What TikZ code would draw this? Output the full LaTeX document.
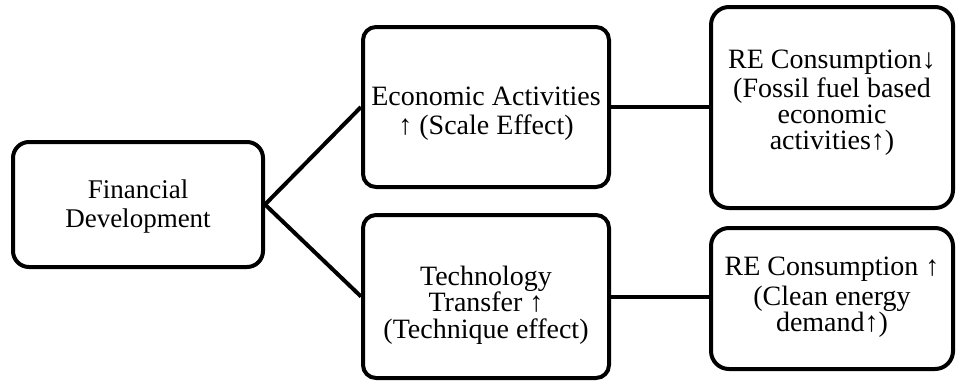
\documentclass[tikz,border=0pt]{standalone}
\usepackage{fontspec}
\setmainfont{Liberation Serif}
\newcommand\topstrut{\rule{0pt}{21pt}}
\newcommand\botstrut{\rule[-8pt]{0pt}{8pt}}
\begin{document}
\begin{tikzpicture}[x=1pt,y=-1pt,
  box/.style={draw, line width=4pt, inner sep=0pt},
  txt/.style={align=center, inner sep=0pt},
  link/.style={line width=4pt}]
\useasboundingbox (0,0) rectangle (957,383);
% boxes
\node[box, rounded corners=16pt, minimum width=250pt, minimum height=125pt] (fd) at (138,204.5) {};
\node[box, rounded corners=13pt, minimum width=246pt, minimum height=160pt] (ea) at (486,107) {};
\node[box, rounded corners=13pt, minimum width=246pt, minimum height=163pt] (tt) at (486,296.5) {};
\node[box, rounded corners=18pt, minimum width=242pt, minimum height=201pt] (rd) at (832,107.5) {};
\node[box, rounded corners=18pt, minimum width=242pt, minimum height=141pt] (ru) at (832,298.5) {};
% texts
\node[txt, font=\fontsize{27}{29}\selectfont] (fdt) at (138,206)
  {\topstrut Financial\\Development\botstrut};
\node[txt, font=\fontsize{28}{29}\selectfont] (eat) at (486,113)
  {\topstrut Economic Activities\\ \char"2191\ (Scale Effect)\botstrut};
\node[txt, font=\fontsize{28}{26.5}\selectfont] (ttt) at (486,305)
  {\topstrut Technology\\Transfer \char"2191\\(Technique effect)\botstrut};
\node[txt, font=\fontsize{28}{26}\selectfont] (rdt) at (832,102)
  {\topstrut RE Consumption\char"2193\\[3pt](Fossil fuel based\\economic\\activities\char"2191)\botstrut};
\node[txt, font=\fontsize{28}{26}\selectfont] (rut) at (832,296.5)
  {\topstrut RE Consumption \char"2191\\[4pt](Clean energy\\demand\char"2191)\botstrut};
% connectors
\draw[link] (fd.east) -- (ea.west);
\draw[link] (fd.east) -- (tt.west);
\draw[link] (ea.east) -- (rd.west |- ea.east);
\draw[link] (tt.east) -- (ru.west |- tt.east);
\end{tikzpicture}
\end{document}
